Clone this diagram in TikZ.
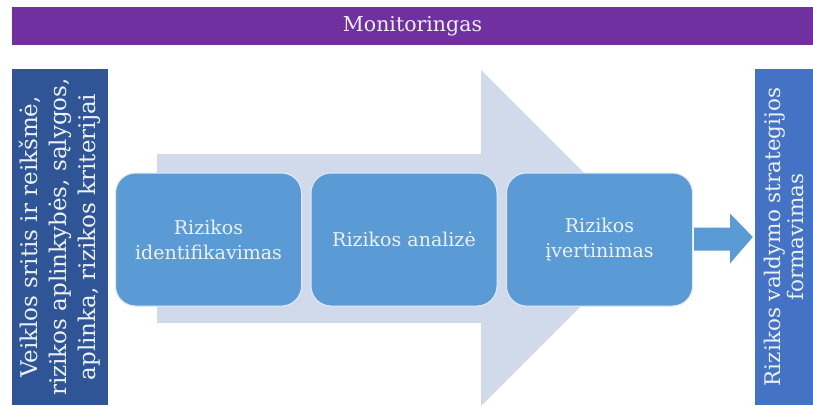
\documentclass[tikz,border=0pt]{standalone}
\usepackage{fontspec}
\setmainfont{DejaVu Serif}
\usetikzlibrary{calc}
\definecolor{purp}{RGB}{112,48,160}
\definecolor{darkbl}{RGB}{47,85,151}
\definecolor{rightbl}{RGB}{68,114,196}
\definecolor{midbl}{RGB}{91,155,213}
\definecolor{lightbl}{RGB}{208,218,235}
\definecolor{txt}{RGB}{236,242,250}
\begin{document}
\begin{tikzpicture}[x=1pt,y=-1pt,
  stagebox/.style={fill=midbl, draw=white!80!midbl, line width=1pt, rounded corners=20pt,
    minimum width=186pt, minimum height=133pt, text=txt, align=center,
    font=\fontsize{19}{25}\selectfont, inner sep=0pt},
  sidebox/.style={rotate=90, text=txt, align=center, inner sep=0pt, minimum width=336pt},
  arrowfill/.style={fill=midbl}]
\useasboundingbox (0,0) rectangle (813,405);
% monitoring bar
\node[fill=purp, minimum width=801pt, minimum height=38pt, inner sep=0pt, text=txt,
  font=\fontsize{20.5}{22}\selectfont] (mon) at (412.5,26) {Monitoringas};
% big background arrow
\fill[lightbl] (157,154) -- (481,154) -- (481,70) -- (649,238) -- (481,406) -- (481,323) -- (157,323) -- cycle;
% side boxes
\node[sidebox, fill=darkbl, minimum height=96pt, font=\fontsize{23}{29}\selectfont] (lb) at (60,237)
  {Veiklos sritis ir reikšmė,\\rizikos aplinkybės, sąlygos,\\aplinka, rizikos kriterijai};
\node[sidebox, fill=rightbl, minimum height=58pt, font=\fontsize{21.5}{22.5}\selectfont] (rb) at (784,237)
  {Rizikos valdymo strategijos\\formavimas};
% stages
\node[stagebox] (s1) at (208.5,239.5) {Rizikos\\identifikavimas};
\node[stagebox] (s2) at (404,239.5) {Rizikos analizė};
\node[stagebox] (s3) at (599.5,239.5) {Rizikos\\įvertinimas};
% small arrow
\fill[arrowfill] ($(s3.east)+(1,-12)$) -- ($(s3.east)+(37,-12)$) -- ($(s3.east)+(37,-26)$)
  -- ($(rb.north)+(-2,0)$) -- ($(s3.east)+(37,24)$) -- ($(s3.east)+(37,11)$)
  -- ($(s3.east)+(1,11)$) -- cycle;
\end{tikzpicture}
\end{document}
